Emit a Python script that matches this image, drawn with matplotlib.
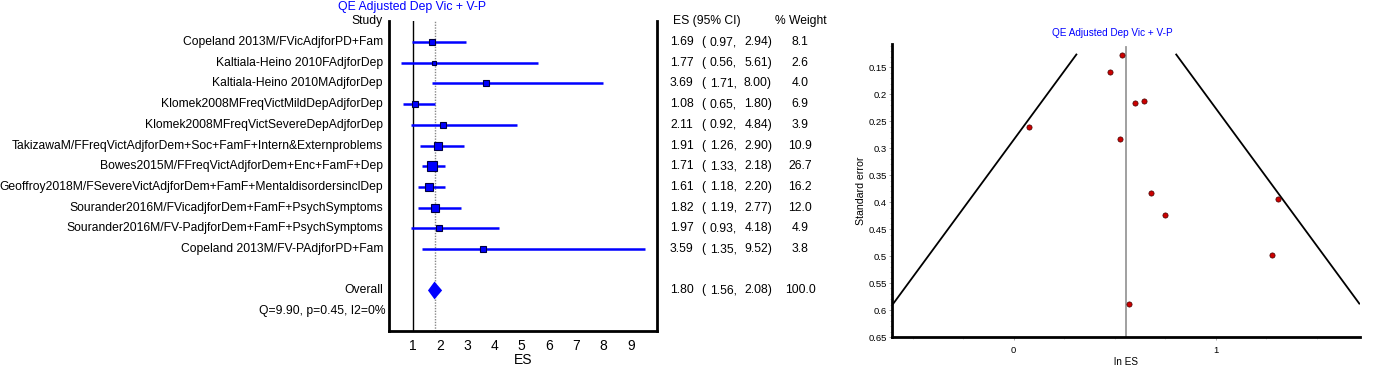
import numpy as np
import matplotlib
matplotlib.use("Agg")
import matplotlib.pyplot as plt
import matplotlib.transforms as mtransforms

# ---------------- data ----------------
studies = [
    "Copeland 2013M/FVicAdjforPD+Fam",
    "Kaltiala-Heino 2010FAdjforDep",
    "Kaltiala-Heino 2010MAdjforDep",
    "Klomek2008MFreqVictMildDepAdjforDep",
    "Klomek2008MFreqVictSevereDepAdjforDep",
    "TakizawaM/FFreqVictAdjforDem+Soc+FamF+Intern&Externproblems",
    "Bowes2015M/FFreqVictAdjforDem+Enc+FamF+Dep",
    "Geoffroy2018M/FSevereVictAdjforDem+FamF+MentaldisordersinclDep",
    "Sourander2016M/FVicadjforDem+FamF+PsychSymptoms",
    "Sourander2016M/FV-PadjforDem+FamF+PsychSymptoms",
    "Copeland 2013M/FV-PAdjforPD+Fam",
]
es = [1.69, 1.77, 3.69, 1.08, 2.11, 1.91, 1.71, 1.61, 1.82, 1.97, 3.59]
ci_low = [0.97, 0.56, 1.71, 0.65, 0.92, 1.26, 1.33, 1.18, 1.19, 0.93, 1.35]
ci_high = [2.94, 5.61, 8.00, 1.80, 4.84, 2.90, 2.18, 2.20, 2.77, 4.18, 9.52]
weights = [8.1, 2.6, 4.0, 6.9, 3.9, 10.9, 26.7, 16.2, 12.0, 4.9, 3.8]
overall_es = 1.80
overall_low = 1.56
overall_high = 2.08
overall_weight = 100.0
het_text = "Q=9.90, p=0.45, I2=0%"
forest_ticks = [1, 2, 3, 4, 5, 6, 7, 8, 9]

# funnel plot values (ln ES, standard error)
funnel_lnes = [0.525, 0.571, 1.306, 0.077, 0.747, 0.647, 0.536, 0.476, 0.599, 0.678, 1.278]
funnel_se = [0.283, 0.588, 0.394, 0.260, 0.424, 0.213, 0.126, 0.159, 0.216, 0.383, 0.498]
funnel_center = 0.557
funnel_yticks = [0.15, 0.2, 0.25, 0.3, 0.35, 0.4, 0.45, 0.5, 0.55, 0.6, 0.65]
funnel_xticks = [0, 1]
title = "QE Adjusted Dep Vic + V-P"

# ---------------- style ----------------
plt.rcParams["font.family"] = ["Liberation Sans", "DejaVu Sans"]

W, H = 1400, 368
fig = plt.figure(figsize=(W / 100, H / 100), dpi=100)

def fx(px):
    return px / W

def fy(py):
    return 1 - py / H

BLUE = "#0000ff"

# ---------------- forest plot ----------------
ax = fig.add_axes([fx(389), fy(331), fx(657 - 389), (331 - 21) / H])
ax.set_xlim(0.13, 9.965)
ax.set_ylim(14.96, -0.02)
rows = np.arange(1, len(studies) + 1)
overall_row = 13
het_row = 14
header_row = 0

ax.axvline(1, color="black", lw=1.0, zorder=1)
ax.axvline(overall_es, color="#888888", lw=1.0, ls=(0, (1, 1)), zorder=1)

for r, e, lo, hi, w in zip(rows, es, ci_low, ci_high, weights):
    ax.plot([lo, hi], [r, r], color=BLUE, lw=1.8, solid_capstyle="butt", zorder=2)
    side_px = 2.3 + 1.5 * np.sqrt(w)
    ax.plot([e], [r], marker="s", ms=side_px * 0.72, mfc=BLUE, mec="#000040",
            mew=0.8, zorder=3)

dh = 0.43
ax.fill([overall_low, overall_es, overall_high, overall_es],
        [overall_row, overall_row - dh, overall_row, overall_row + dh],
        color=BLUE, lw=0, zorder=3)

ax.set_xticks(forest_ticks)
ax.set_xticklabels([str(t) for t in forest_ticks], fontsize=10)
ax.tick_params(axis="x", length=0, pad=6)
ax.set_yticks([])
for s in ["left", "bottom", "right"]:
    ax.spines[s].set_linewidth(2.0)
ax.spines["top"].set_visible(False)
ax.set_xlabel("ES", fontsize=10, labelpad=0)

tr = mtransforms.blended_transform_factory(fig.transFigure, ax.transData)
lab_fs = 8.7
ax.text(fx(383), header_row, "Study", transform=tr, ha="right", va="center", fontsize=lab_fs)
for r, name in zip(rows, studies):
    ax.text(fx(383), r, name, transform=tr, ha="right", va="center", fontsize=lab_fs)
ax.text(fx(383), overall_row, "Overall", transform=tr, ha="right", va="center", fontsize=lab_fs)
ax.text(fx(386), het_row, het_text, transform=tr, ha="right", va="center", fontsize=lab_fs)

ax.text(fx(673), header_row, "ES (95% CI)", transform=tr, ha="left", va="center", fontsize=lab_fs)
ax.text(fx(801), header_row, "% Weight", transform=tr, ha="center", va="center", fontsize=lab_fs)

def es_row(r, e, lo, hi, w):
    kw = dict(transform=tr, va="center", fontsize=lab_fs)
    ax.text(fx(670), r, f"{e:.2f}", ha="left", **kw)
    ax.text(fx(701.5), r, "(", ha="left", **kw)
    ax.text(fx(737), r, f"{lo:.2f},", ha="right", **kw)
    ax.text(fx(772), r, f"{hi:.2f})", ha="right", **kw)
    ax.text(fx(800), r, f"{w:.1f}", ha="center", **kw)

for r, e, lo, hi, w in zip(rows, es, ci_low, ci_high, weights):
    es_row(r, e, lo, hi, w)
es_row(overall_row, overall_es, overall_low, overall_high, overall_weight)

fig.text(fx(411.5), fy(7), title, color=BLUE, ha="center", va="center", fontsize=8.8)

# ---------------- funnel plot ----------------
ax2 = fig.add_axes([fx(892), fy(337), fx(1360 - 892), (337 - 44) / H])
ax2.set_xlim(-0.602, 1.713)
ax2.set_ylim(0.65, 0.1065)

se_min, se_max = min(funnel_se), max(funnel_se)
ax2.plot([funnel_center - 1.96 * se_min, funnel_center - 1.96 * se_max], [se_min, se_max],
         color="black", lw=1.3)
ax2.plot([funnel_center + 1.96 * se_min, funnel_center + 1.96 * se_max], [se_min, se_max],
         color="black", lw=1.3)
ax2.axvline(funnel_center, color="#999999", lw=1.3, ymax=0.99)
ax2.scatter(funnel_lnes, funnel_se, s=14, c="#cc0000", edgecolors="#400000",
            linewidths=0.5, zorder=3)

fs2 = 6.8
ax2.set_yticks(funnel_yticks)
ax2.set_yticklabels([f"{t:g}" for t in funnel_yticks], fontsize=fs2)
ax2.set_yticks(np.arange(0.11, 0.651, 0.01), minor=True)
ax2.set_xticks(funnel_xticks)
ax2.set_xticklabels([str(t) for t in funnel_xticks], fontsize=fs2)
ax2.set_xticks([-0.5, -0.25, 0.25, 0.5, 0.75, 1.25, 1.5], minor=True)
ax2.tick_params(axis="both", which="major", length=2.5, width=0.6, color="#999999", pad=1.0)
ax2.tick_params(axis="both", which="minor", length=1.5, width=0.5, color="#bbbbbb")
ax2.tick_params(axis="x", which="major", pad=4)
for s in ["left", "bottom"]:
    ax2.spines[s].set_linewidth(2.0)
for s in ["top", "right"]:
    ax2.spines[s].set_visible(False)
ax2.set_ylabel("Standard error", fontsize=7.6)
ax2.yaxis.set_label_coords((866 - 892) / 468, 0.5)
ax2.set_xlabel("ln ES", fontsize=7.2)
ax2.xaxis.set_label_coords(0.5, -(357 - 337) / 293)
fig.text(fx(1112), fy(33), title, color=BLUE, ha="center", va="center", fontsize=7.2)

fig.savefig("out.png", dpi=100)
